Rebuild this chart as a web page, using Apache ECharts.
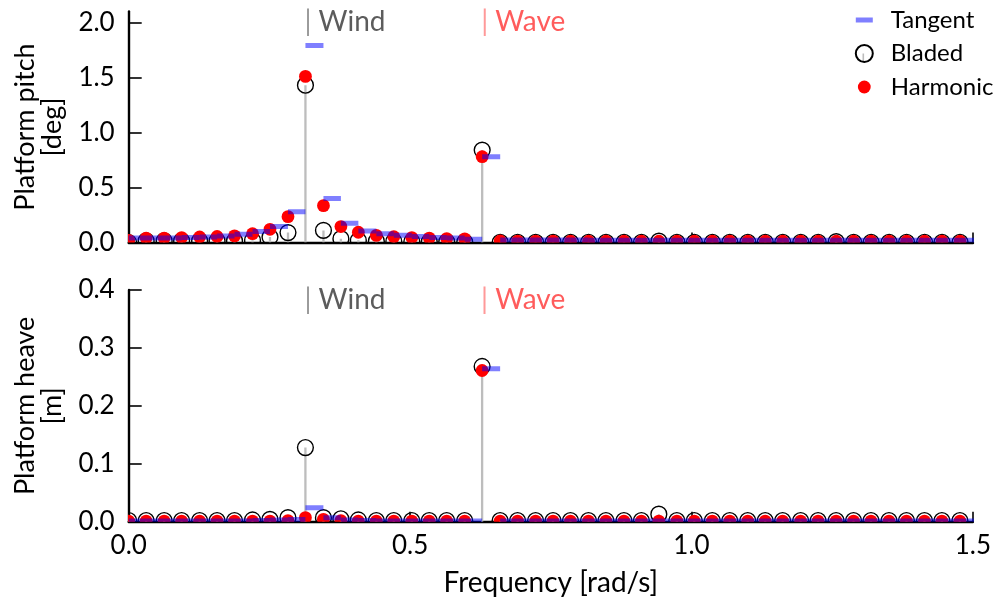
<!DOCTYPE html>
<html><head><meta charset="utf-8">
<script src="https://cdn.jsdelivr.net/npm/echarts@6/dist/echarts.min.js"></script>
<style>html,body{margin:0;padding:0;background:#fff}#c{width:994px;height:608px}</style>
</head><body><div id="c"></div>
<script>
// Frequencies [rad/s] (bin starts)
const freqs = [0.000,0.031,0.063,0.094,0.126,0.157,0.188,0.220,0.251,0.283,
  0.314,0.346,0.377,0.408,0.440,0.471,0.503,0.534,0.565,0.597,
  0.628,0.660,0.691,0.723,0.754,0.785,0.817,0.848,0.880,0.911,
  0.942,0.974,1.005,1.037,1.068,1.100,1.131,1.162,1.194,1.225,
  1.257,1.288,1.319,1.351,1.382,1.414,1.445,1.477];
const lastEdge = 1.508;

// Platform pitch [deg]
const pitchTangent = [0.040,0.040,0.040,0.045,0.050,0.060,0.075,0.100,0.145,0.280,
  1.790,0.400,0.175,0.105,0.080,0.065,0.055,0.045,0.040,0.030,
  0.780,0.022,0.022,0.022,0.022,0.022,0.021,0.021,0.021,0.021,
  0.021,0.021,0.020,0.020,0.020,0.020,0.020,0.020,0.020,0.020,
  0.020,0.020,0.020,0.020,0.020,0.020,0.020,0.020];
const pitchBladed = [0.000,0.015,0.015,0.015,0.015,0.015,0.015,0.020,0.050,0.090,
  1.430,0.110,0.035,0.020,0.012,0.010,0.008,0.006,0.005,0.004,
  0.840,0.002,0.002,0.002,0.002,0.002,0.002,0.002,0.002,0.002,
  0.012,0.002,0.002,0.002,0.002,0.002,0.002,0.002,0.002,0.002,
  0.008,0.002,0.002,0.002,0.002,0.002,0.002,0.002];
const pitchHarmonic = [0.020,0.040,0.040,0.045,0.050,0.055,0.060,0.080,0.120,0.235,
  1.510,0.335,0.145,0.093,0.065,0.053,0.045,0.040,0.036,0.033,
  0.780,0.014,0.013,0.013,0.013,0.012,0.012,0.012,0.012,0.012,
  0.012,0.012,0.012,0.012,0.012,0.012,0.012,0.012,0.012,0.012,
  0.012,0.012,0.012,0.012,0.012,0.012,0.012,0.012];

// Platform heave [m]
const heaveTangent = [0.001,0.001,0.001,0.001,0.001,0.001,0.001,0.002,0.003,0.004,
  0.024,0.007,0.003,0.002,0.001,0.001,0.001,0.001,0.001,0.001,
  0.264,0.001,0.001,0.001,0.001,0.001,0.001,0.001,0.001,0.001,
  0.001,0.001,0.001,0.001,0.001,0.001,0.001,0.001,0.001,0.001,
  0.001,0.001,0.001,0.001,0.001,0.001,0.001,0.001];
const heaveBladed = [0.002,0.002,0.002,0.002,0.002,0.002,0.002,0.003,0.004,0.007,
  0.128,0.007,0.005,0.003,0.002,0.002,0.002,0.002,0.002,0.002,
  0.268,0.002,0.002,0.002,0.002,0.002,0.002,0.002,0.002,0.002,
  0.013,0.002,0.002,0.002,0.002,0.002,0.002,0.002,0.002,0.002,
  0.002,0.002,0.002,0.002,0.002,0.002,0.002,0.002];
const heaveHarmonic = [0.001,0.001,0.001,0.001,0.001,0.001,0.001,0.001,0.001,0.002,
  0.007,0.004,0.002,0.001,0.001,0.001,0.001,0.001,0.001,0.001,
  0.261,0.001,0.001,0.001,0.001,0.001,0.001,0.001,0.001,0.001,
  0.001,0.001,0.001,0.001,0.001,0.001,0.001,0.001,0.001,0.001,
  0.001,0.001,0.001,0.001,0.001,0.001,0.001,0.001];

// Axes / ticks
const xTicks = [0.0, 0.5, 1.0, 1.5];
const pitchTicks = [0.0, 0.5, 1.0, 1.5, 2.0];
const heaveTicks = [0.0, 0.1, 0.2, 0.3, 0.4];
const pitchRange = [0, 2.1];
const heaveRange = [0, 0.4];
const xRange = [0, 1.5];

// Annotations
const windFreq = 0.314, waveFreq = 0.628;
const annotY = [2.005, 0.382];

const FONT = 'Lato';
const TANGENT_COLOR = 'rgba(0,0,255,0.5)';
const STEM_COLOR = '#bdbdbd';

const chart = echarts.init(document.getElementById('c'), null, {renderer: 'canvas'});

function pts(vals) { return vals.map((v, i) => [freqs[i], v]); }
function segs(vals) { return vals.map((v, i) => [freqs[i], i + 1 < freqs.length ? freqs[i + 1] : lastEdge, v]); }

function tangentSeries(idx, vals) {
  return {
    name: 'Tangent', type: 'custom', xAxisIndex: idx, yAxisIndex: idx, z: 5, clip: true, silent: true,
    itemStyle: {color: TANGENT_COLOR},
    encode: {x: [0, 1], y: 2},
    data: segs(vals),
    renderItem: function (params, api) {
      const a = api.coord([api.value(0), api.value(2)]);
      const b = api.coord([api.value(1), api.value(2)]);
      return {type: 'line', shape: {x1: a[0], y1: a[1], x2: b[0], y2: b[1]},
        style: {stroke: TANGENT_COLOR, lineWidth: 5, lineCap: 'butt'}};
    }
  };
}
function stemSeries(idx, vals) {
  return {
    name: 'stem', type: 'custom', xAxisIndex: idx, yAxisIndex: idx, z: 2, clip: true, silent: true,
    itemStyle: {color: STEM_COLOR},
    encode: {x: 0, y: 1},
    data: pts(vals),
    renderItem: function (params, api) {
      const a = api.coord([api.value(0), 0]);
      const b = api.coord([api.value(0), api.value(1)]);
      return {type: 'line', shape: {x1: a[0], y1: a[1], x2: b[0], y2: b[1]},
        style: {stroke: STEM_COLOR, lineWidth: 2.3}};
    }
  };
}
function bladedSeries(idx, vals) {
  return {
    name: 'Bladed', type: 'custom', xAxisIndex: idx, yAxisIndex: idx, z: 3, clip: true, silent: true,
    itemStyle: {color: 'rgba(255,255,255,0)', borderColor: '#000', borderWidth: 1.4},
    encode: {x: 0, y: 1},
    data: pts(vals),
    renderItem: function (params, api) {
      const c = api.coord([api.value(0), api.value(1)]);
      return {type: 'circle', shape: {cx: c[0], cy: c[1], r: 7.9},
        style: {fill: 'none', stroke: '#000', lineWidth: 1.4}};
    }
  };
}
function harmonicSeries(idx, vals) {
  return {
    name: 'Harmonic', type: 'custom', xAxisIndex: idx, yAxisIndex: idx, z: 4, clip: true, silent: true,
    itemStyle: {color: '#ff0000'},
    encode: {x: 0, y: 1},
    data: pts(vals),
    renderItem: function (params, api) {
      const c = api.coord([api.value(0), api.value(1)]);
      return {type: 'circle', shape: {cx: c[0], cy: c[1], r: 6.4},
        style: {fill: '#ff0000'}};
    }
  };
}
function annotSeries(idx) {
  return {
    name: 'annot', type: 'scatter', xAxisIndex: idx, yAxisIndex: idx, z: 6, clip: false, silent: true,
    symbolSize: 0,
    data: [
      {value: [windFreq, annotY[idx]], label: {formatter: '{b||}{t| Wind}'}},
      {value: [waveFreq, annotY[idx]], label: {formatter: '{rb||}{rt| Wave}'}}
    ],
    label: {
      show: true, position: 'inside', align: 'left', verticalAlign: 'middle', offset: [-1, 0],
      rich: {
        b: {color: '#808080', fontSize: 28, fontFamily: FONT},
        t: {color: '#333333', fontSize: 28, fontFamily: FONT},
        rb: {color: '#ff8080', fontSize: 28, fontFamily: FONT},
        rt: {color: '#ff3333', fontSize: 28, fontFamily: FONT}
      }
    }
  };
}

const axisLineStyle = {color: '#000', width: 2.4};
const labelStyle = {color: '#000', fontSize: 26, fontFamily: FONT};

const option = {
  animation: false,
  backgroundColor: '#fff',
  grid: [
    {left: 128.7, right: 21, top: 11.5, height: 231, containLabel: false},
    {left: 128.7, right: 21, top: 290, height: 231.7, containLabel: false}
  ],
  xAxis: [0, 1].map(i => ({
    type: 'value', gridIndex: i, min: xRange[0], max: xRange[1], interval: 0.5,
    axisLine: {show: true, onZero: false, lineStyle: axisLineStyle},
    axisTick: {show: true, inside: true, length: 10, lineStyle: {color: '#000', width: 1.6}, customValues: xTicks},
    axisLabel: {show: i === 1, margin: 11, customValues: xTicks, formatter: v => v.toFixed(1), ...labelStyle},
    splitLine: {show: false},
    name: i === 1 ? 'Frequency [rad/s]' : '', nameLocation: 'middle', nameGap: 47,
    nameTextStyle: {color: '#000', fontSize: 28, fontFamily: FONT}
  })),
  yAxis: [0, 1].map(i => ({
    type: 'value', gridIndex: i,
    min: i === 0 ? pitchRange[0] : heaveRange[0], max: i === 0 ? pitchRange[1] : heaveRange[1],
    axisLine: {show: true, onZero: false, lineStyle: axisLineStyle},
    axisTick: {show: true, inside: true, length: 13, lineStyle: {color: '#000', width: 1.6}, customValues: i === 0 ? pitchTicks : heaveTicks},
    axisLabel: {show: true, margin: 14, customValues: i === 0 ? pitchTicks : heaveTicks, formatter: v => v.toFixed(1), ...labelStyle},
    splitLine: {show: false},
    name: i === 0 ? 'Platform pitch\n[deg]' : 'Platform heave\n[m]', nameLocation: 'middle', nameRotate: 90, nameGap: 63,
    nameTextStyle: {color: '#000', fontSize: 27, fontFamily: FONT, lineHeight: 27}
  })),
  legend: [
    {
      orient: 'vertical', left: 854.8, top: 45, itemWidth: 17, itemHeight: 17, padding: 0,
      selectedMode: false, formatter: () => '',
      textStyle: {fontSize: 10, lineHeight: 17, height: 17},
      data: [{name: 'stem', icon: 'path://M0,0M17,17M7.7,8.5h1.6v8.5h-1.6z'}]
    },
    {
      orient: 'vertical', left: 854.8, top: 8, itemWidth: 17, itemHeight: 17, itemGap: 9.5, padding: 0,
      selectedMode: false,
      textStyle: {fontSize: 24, fontFamily: FONT, color: '#000', padding: [0, 0, 0, 13]},
      data: [
        {name: 'Tangent', icon: 'path://M0,0h17v5h-17z'},
        {name: 'Bladed', icon: 'circle'},
        {name: 'Harmonic', icon: 'path://M0,0M17,17M2.1,8.5a6.4,6.4 0 1,0 12.8,0a6.4,6.4 0 1,0 -12.8,0z'}
      ]
    }
  ],
  series: [
    stemSeries(0, pitchBladed), bladedSeries(0, pitchBladed), harmonicSeries(0, pitchHarmonic), tangentSeries(0, pitchTangent), annotSeries(0),
    stemSeries(1, heaveBladed), bladedSeries(1, heaveBladed), harmonicSeries(1, heaveHarmonic), tangentSeries(1, heaveTangent), annotSeries(1)
  ]
};
chart.setOption(option);
</script>
</body></html>
